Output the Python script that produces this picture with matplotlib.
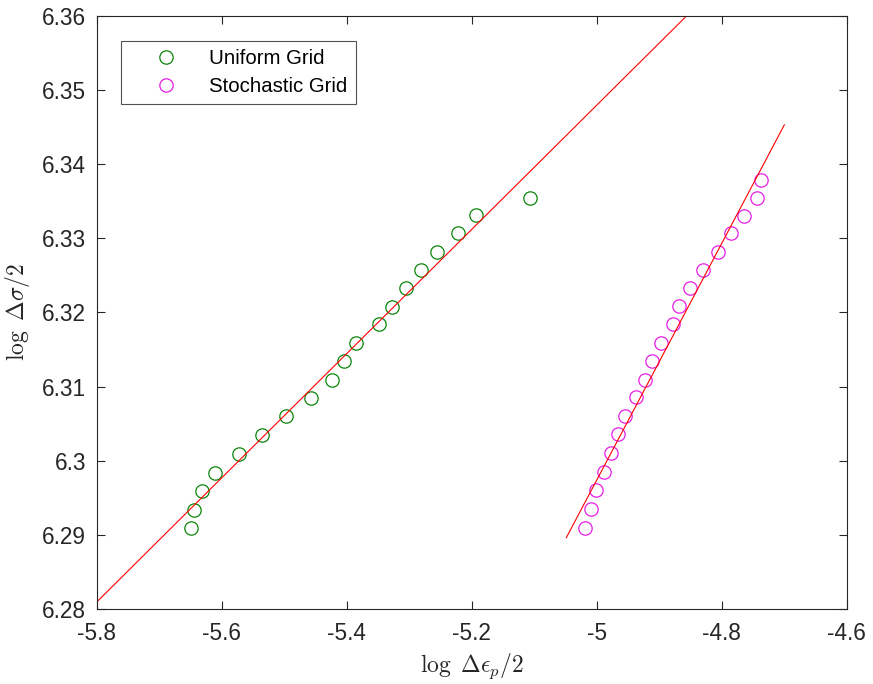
import matplotlib
matplotlib.use("Agg")
import matplotlib.pyplot as plt
import numpy as np

plt.rcParams['font.family'] = ['Liberation Sans', 'DejaVu Sans']
plt.rcParams['mathtext.fontset'] = 'cm'
plt.rcParams['axes.unicode_minus'] = False

# ---- data ----
uniform_x = [-5.650, -5.6447, -5.632, -5.6116, -5.5727, -5.5359, -5.497, -5.457,
             -5.4234, -5.4051, -5.385, -5.3491, -5.3273, -5.3054, -5.2814, -5.2558,
             -5.2227, -5.1929, -5.1064]
uniform_y = [6.2909, 6.2934, 6.2959, 6.2984, 6.3009, 6.3035, 6.3060, 6.3085,
             6.3109, 6.3134, 6.3159, 6.3184, 6.3208, 6.3233, 6.3257, 6.3282,
             6.3307, 6.3331, 6.3355]

stoch_x = [-5.0189, -5.0098, -5.0008, -4.989, -4.9768, -4.9656, -4.9544, -4.9377,
           -4.9229, -4.9121, -4.8972, -4.8785, -4.8679, -4.8508, -4.8305, -4.8065,
           -4.7847, -4.7644, -4.7436, -4.7367]
stoch_y = [6.2910, 6.2935, 6.2960, 6.2985, 6.3010, 6.3036, 6.3061, 6.3086,
           6.3109, 6.3134, 6.3159, 6.3184, 6.3209, 6.3233, 6.3257, 6.3282,
           6.3307, 6.3330, 6.3355, 6.3378]

# linear fits: slope, value at x0, x-range
uniform_fit_slope = 0.0837
uniform_fit_y0 = 6.2810   # at x = -5.8
uniform_fit_x = [-5.8, -4.75]

stoch_fit_slope = 0.1595
stoch_fit_y0 = 6.28964    # at x = -5.0488
stoch_fit_x = [-5.0488, -4.6999]

xticks = [-5.8, -5.6, -5.4, -5.2, -5.0, -4.8, -4.6]
xtick_labels = ['-5.8', '-5.6', '-5.4', '-5.2', '-5', '-4.8', '-4.6']
yticks = [6.28, 6.29, 6.30, 6.31, 6.32, 6.33, 6.34, 6.35, 6.36]
ytick_labels = ['6.28', '6.29', '6.3', '6.31', '6.32', '6.33', '6.34', '6.35', '6.36']

# ---- figure ----
fig = plt.figure(figsize=(8.73, 6.84), dpi=100)
ax = fig.add_axes([0.1111, 0.1094, 0.8588, 0.8675])

green = '#0a850a'
mag = '#e61ee6'

ax.plot(uniform_x, uniform_y, 'o', mfc='none', mec=green, ms=9.6, mew=0.9,
        label='Uniform Grid')
ax.plot(stoch_x, stoch_y, 'o', mfc='none', mec=mag, ms=9.6, mew=0.9,
        label='Stochastic Grid')

ux = np.array(uniform_fit_x)
ax.plot(ux, uniform_fit_y0 + uniform_fit_slope * (ux - uniform_fit_x[0]),
        color='red', lw=0.8)
sx = np.array(stoch_fit_x)
ax.plot(sx, stoch_fit_y0 + stoch_fit_slope * (sx - stoch_fit_x[0]),
        color='red', lw=0.8)

ax.set_xlim(-5.8, -4.6)
ax.set_ylim(6.28, 6.36)
ax.set_xticks(xticks)
ax.set_xticklabels(xtick_labels)
ax.set_yticks(yticks)
ax.set_yticklabels(ytick_labels)

fc = '#262626'
for s in ax.spines.values():
    s.set_color(fc)
    s.set_linewidth(0.8)
ax.tick_params(direction='in', top=True, right=True, length=5.5, width=0.8,
               colors=fc, labelsize=16.3)
ax.tick_params(axis='x', pad=9)
ax.tick_params(axis='y', pad=8)

ax.set_xlabel(r'$\log\ \Delta\epsilon_p/2$', fontsize=17, labelpad=5, color=fc)
ax.set_ylabel(r'$\log\ \Delta\sigma/2$', fontsize=17, labelpad=7, color=fc)

leg = ax.legend(loc='upper left', bbox_to_anchor=(0.0316, 0.958), borderaxespad=0,
                fontsize=14.7, frameon=True, fancybox=False, handlelength=3.6,
                handletextpad=0.35, borderpad=0.4, labelspacing=0.45)
leg.get_frame().set_edgecolor(fc)
leg.get_frame().set_linewidth(0.8)

fig.savefig('out.png', dpi=100)
